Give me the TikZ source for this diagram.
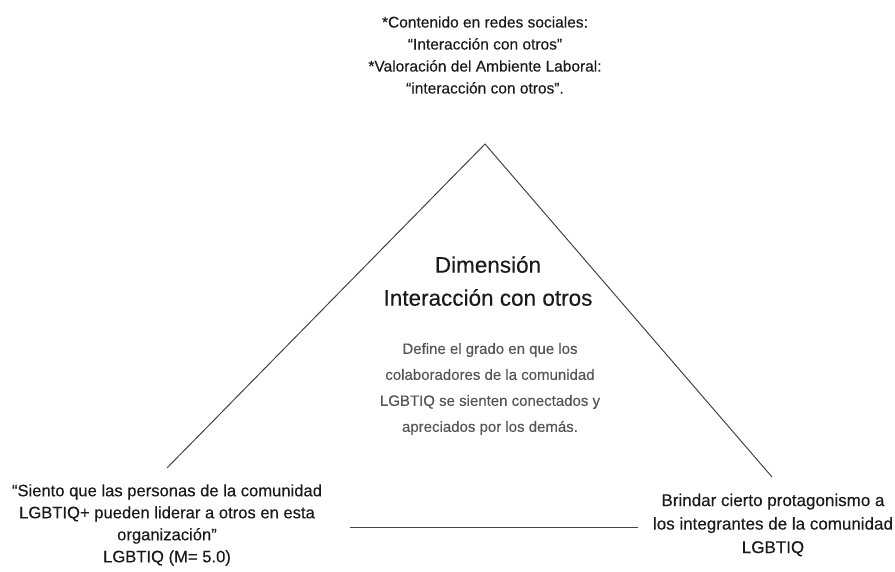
\documentclass[tikz,border=0pt]{standalone}
\usepackage{fontspec}
\setmainfont{Liberation Sans}[FakeBold=0.3]
\definecolor{txt}{HTML}{1A1A1A}
\definecolor{desc}{HTML}{555555}
\definecolor{ln}{HTML}{444444}
\begin{document}
\begin{tikzpicture}[x=1pt,y=-1pt,
  lbl/.style={align=center,text=txt,font=\fontsize{16.6}{22}\selectfont,inner sep=0pt},
  ttl/.style={align=center,text=txt,font=\fontsize{22.5}{33}\selectfont,inner sep=0pt},
  dsc/.style={align=center,text=desc,font=\fontsize{15}{26}\selectfont,inner sep=0pt},
  edge/.style={draw=ln,line width=1pt}]
\useasboundingbox (0,0) rectangle (895,572);
\coordinate (apex) at (485,144);
\coordinate (lend) at (167,468);
\coordinate (rend) at (772,477);
\coordinate (bl) at (350,527);
\coordinate (br) at (638,527);
\draw[edge] (lend) -- (apex) -- (rend);
\draw[edge] (bl) -- (br);
\node[lbl,font=\fontsize{15.5}{22}\selectfont] (top) at (485,55) {*Contenido en redes sociales:\\“Interacción con otros”\\*Valoración del Ambiente Laboral:\\“interacción con otros”.};
\node[ttl] (title) at (488,281) {Dimensión\\Interacción con otros};
\node[dsc] (desc) at (490,389) {Define el grado en que los\\colaboradores de la comunidad\\LGBTIQ se sienten conectados y\\apreciados por los demás.};
\node[lbl] (left) at (167,525) {“Siento que las personas de la comunidad\\LGBTIQ+ pueden liderar a otros en esta\\organización”\\LGBTIQ (M= 5.0)};
\node[lbl,font=\fontsize{17}{23.5}\selectfont] (right) at (773,525) {Brindar cierto protagonismo a\\los integrantes de la comunidad\\LGBTIQ};
\end{tikzpicture}
\end{document}
